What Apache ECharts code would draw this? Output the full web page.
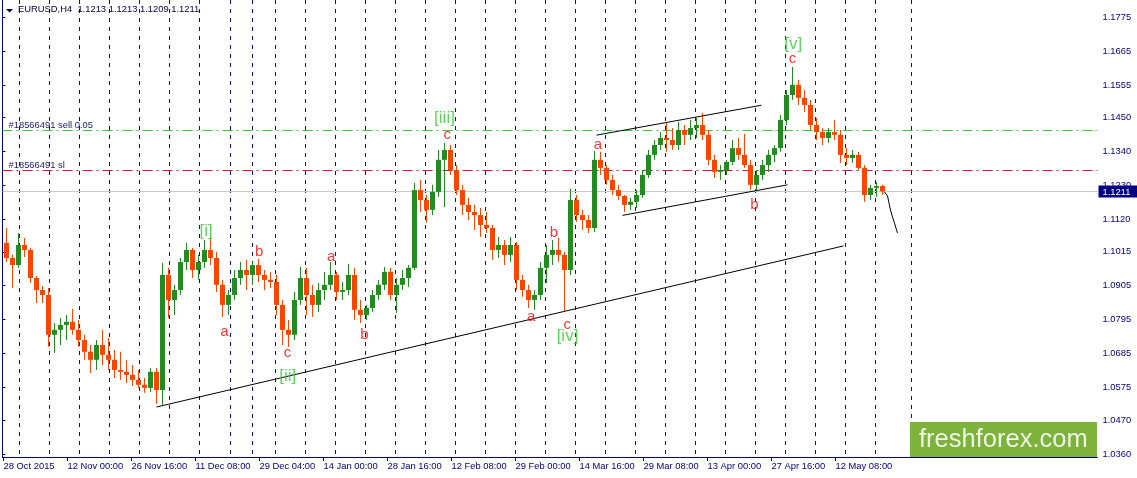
<!DOCTYPE html>
<html><head><meta charset="utf-8">
<script src="https://cdn.jsdelivr.net/npm/echarts@6/dist/echarts.min.js"></script>
<style>html,body{margin:0;padding:0;background:#fff}#c{width:1137px;height:478px}</style>
</head><body><div id="c"></div>
<script>
// ---------------- data ----------------
const chartTitle = 'EURUSD,H4  1.1213 1.1213 1.1209 1.1211';
const xLabels = ['28 Oct 2015','12 Nov 00:00','26 Nov 16:00','11 Dec 08:00','29 Dec 04:00','14 Jan 00:00','28 Jan 16:00','12 Feb 08:00','29 Feb 00:00','14 Mar 16:00','29 Mar 08:00','13 Apr 00:00','27 Apr 16:00','12 May 08:00'];
const yLabels = [1.1775,1.1665,1.1555,1.1450,1.1340,1.1230,1.1120,1.1015,1.0905,1.0795,1.0685,1.0575,1.0470,1.0360];
// H4 bar index of each weekly separator
const weekStarts = [17,47,77,107,137,167,197,228,250,273,303,333,363,393,423,453,483,513,543,573,603,633,663,693,723,753,783,813,843,873,909];
// daily candles (6 H4 bars each)
const opens = [
1.1044,1.0995,1.0972,1.1037,1.1021,1.0930,1.0891,1.0875,1.0746,1.0762,
1.0778,1.0788,1.0762,1.0729,1.0691,1.0665,1.0713,1.0681,1.0665,1.0632,
1.0626,1.0616,1.0600,1.0584,1.0574,1.0626,1.0567,1.0940,1.0859,1.0891,
1.0982,1.1021,1.0956,1.0982,1.1021,1.0995,1.0908,1.0843,1.0875,1.0930,
1.0956,1.0940,1.0972,1.0940,1.0924,1.0917,1.0843,1.0762,1.0746,1.0859,
1.0930,1.0875,1.0843,1.0891,1.0908,1.0940,1.0885,1.0891,1.0940,1.0827,
1.0810,1.0833,1.0875,1.0908,1.0950,1.0875,1.0908,1.0930,1.0963,1.1215,
1.1183,1.1151,1.1209,1.1313,1.1345,1.1280,1.1215,1.1167,1.1144,1.1134,
1.1102,1.1092,1.1021,1.1037,1.1005,1.1037,1.0924,1.0891,1.0859,1.0875,
1.0963,1.1005,1.1021,1.1005,1.0956,1.1183,1.1134,1.1118,1.1092,1.1313,
1.1287,1.1248,1.1215,1.1196,1.1167,1.1177,1.1199,1.1264,1.1329,1.1361,
1.1384,1.1377,1.1361,1.1410,1.1394,1.1416,1.1426,1.1394,1.1313,1.1274,
1.1280,1.1306,1.1351,1.1329,1.1296,1.1232,1.1264,1.1296,1.1329,1.1351,
1.1442,1.1523,1.1556,1.1514,1.1491,1.1426,1.1403,1.1384,1.1403,1.1394,
1.1329,1.1319,1.1329,1.1287,1.1199,1.1222,1.1228];
const closes = [
1.0995,1.0972,1.1037,1.1021,1.0930,1.0891,1.0875,1.0746,1.0762,1.0778,
1.0788,1.0762,1.0729,1.0691,1.0665,1.0713,1.0681,1.0665,1.0632,1.0626,
1.0616,1.0600,1.0584,1.0574,1.0626,1.0567,1.0940,1.0859,1.0891,1.0982,
1.1021,1.0956,1.0982,1.1021,1.0995,1.0908,1.0843,1.0875,1.0930,1.0956,
1.0940,1.0972,1.0940,1.0924,1.0917,1.0843,1.0762,1.0746,1.0859,1.0930,
1.0875,1.0843,1.0891,1.0908,1.0940,1.0885,1.0891,1.0940,1.0827,1.0810,
1.0833,1.0875,1.0908,1.0950,1.0875,1.0908,1.0930,1.0963,1.1215,1.1183,
1.1151,1.1209,1.1313,1.1345,1.1280,1.1215,1.1167,1.1144,1.1134,1.1102,
1.1092,1.1021,1.1037,1.1005,1.1037,1.0924,1.0891,1.0859,1.0875,1.0963,
1.1005,1.1021,1.1005,1.0956,1.1183,1.1134,1.1118,1.1092,1.1313,1.1287,
1.1248,1.1215,1.1196,1.1167,1.1177,1.1199,1.1264,1.1329,1.1361,1.1384,
1.1377,1.1361,1.1410,1.1394,1.1416,1.1426,1.1394,1.1313,1.1274,1.1280,
1.1306,1.1351,1.1329,1.1296,1.1232,1.1264,1.1296,1.1329,1.1351,1.1442,
1.1523,1.1556,1.1514,1.1491,1.1426,1.1403,1.1384,1.1403,1.1394,1.1329,
1.1319,1.1329,1.1287,1.1199,1.1222,1.1228,1.1211];
const highs = [
1.1092,1.1005,1.1076,1.1060,1.1028,1.0937,1.0904,1.0898,1.0784,1.0801,
1.0810,1.0830,1.0794,1.0746,1.0713,1.0729,1.0762,1.0736,1.0697,1.0691,
1.0665,1.0648,1.0632,1.0606,1.0639,1.0639,1.0979,1.0963,1.0908,1.0995,
1.1044,1.1028,1.1005,1.1053,1.1063,1.1015,1.0924,1.0891,1.0956,1.0982,
1.0989,1.0982,1.0992,1.0956,1.0950,1.0940,1.0859,1.0794,1.0885,1.0966,
1.0963,1.0908,1.0914,1.0950,1.0982,1.0950,1.0917,1.0976,1.0963,1.0859,
1.0843,1.0891,1.0924,1.0966,1.0963,1.0930,1.0956,1.0972,1.1238,1.1248,
1.1199,1.1232,1.1345,1.1368,1.1361,1.1296,1.1232,1.1190,1.1167,1.1157,
1.1144,1.1102,1.1063,1.1053,1.1063,1.1047,1.0940,1.0908,1.0891,1.0982,
1.1037,1.1053,1.1060,1.1015,1.1219,1.1199,1.1151,1.1134,1.1342,1.1339,
1.1296,1.1264,1.1232,1.1199,1.1190,1.1215,1.1280,1.1345,1.1377,1.1403,
1.1432,1.1416,1.1436,1.1426,1.1442,1.1449,1.1465,1.1410,1.1329,1.1296,
1.1313,1.1377,1.1384,1.1397,1.1313,1.1280,1.1313,1.1345,1.1361,1.1458,
1.1539,1.1614,1.1572,1.1539,1.1507,1.1449,1.1416,1.1416,1.1442,1.1410,
1.1351,1.1345,1.1339,1.1296,1.1232,1.1241,1.1232];
const lows = [
1.0982,1.0898,1.0963,1.0998,1.0914,1.0849,1.0849,1.0707,1.0687,1.0713,
1.0729,1.0746,1.0707,1.0665,1.0622,1.0632,1.0648,1.0632,1.0606,1.0600,
1.0590,1.0580,1.0574,1.0558,1.0561,1.0522,1.0519,1.0801,1.0810,1.0875,
1.0956,1.0930,1.0924,1.0963,1.0972,1.0885,1.0804,1.0810,1.0859,1.0908,
1.0891,1.0908,1.0917,1.0891,1.0898,1.0810,1.0713,1.0707,1.0729,1.0843,
1.0810,1.0804,1.0820,1.0859,1.0891,1.0859,1.0859,1.0875,1.0794,1.0784,
1.0794,1.0820,1.0859,1.0891,1.0859,1.0817,1.0891,1.0901,1.0956,1.1144,
1.1109,1.1134,1.1193,1.1160,1.1264,1.1199,1.1134,1.1118,1.1086,1.1063,
1.1076,1.0989,1.0995,1.0972,1.0982,1.0891,1.0869,1.0833,1.0827,1.0859,
1.0914,1.0972,1.0982,1.0820,1.0940,1.1112,1.1086,1.1076,1.1079,1.1264,
1.1232,1.1199,1.1183,1.1144,1.1151,1.1157,1.1190,1.1254,1.1313,1.1345,
1.1339,1.1345,1.1345,1.1361,1.1377,1.1384,1.1377,1.1296,1.1254,1.1248,
1.1264,1.1296,1.1313,1.1287,1.1215,1.1215,1.1248,1.1274,1.1306,1.1339,
1.1426,1.1507,1.1491,1.1468,1.1410,1.1377,1.1361,1.1368,1.1377,1.1303,
1.1296,1.1303,1.1280,1.1177,1.1183,1.1193,1.1199];
const sellLevel = 1.1408, stopLevel = 1.1278, lastPrice = 1.1211;
const sellText = '#18566491 sell 0.05', stopText = '#18566491 sl';
// drawn lines: [H4 bar index, price]
const trendLine = [[154,1.0512],[841,1.1034]];
const channelUpper = [[594,1.1393],[759,1.1490]];
const channelLower = [[620,1.1133],[785,1.1232]];
const projection = [[882,1.1209],[885,1.1196],[886.5,1.1173],[888,1.1150],[890,1.1128],[892,1.1108],[894,1.1086],[895,1.1076]];
// wave labels: [H4 bar index, price, text]
const waveLetters = [[222,1.0755,'a'],[256.7,1.1014,'b'],[285,1.0687,'c'],[328.7,1.0999,'a'],[362,1.0746,'b'],[444.7,1.1394,'c'],[528.7,1.0805,'a'],[551.3,1.1075,'b'],[564.7,1.0778,'c'],[595.3,1.1361,'a'],[752,1.1167,'b'],[790,1.1639,'c']];
const waveDegrees = [[203.7,1.1080,'[i]'],[285.3,1.0611,'[ii]'],[442,1.1449,'[iii]'],[565,1.0742,'[iv]'],[790.7,1.1687,'[v]']];

// ---------------- chart ----------------
const NAVY = '#000080';
const GRIDBLUE = '#0A0A9C';
const FONT = '"Liberation Sans", Arial, sans-serif';
const FS = 9.4;
const barsPerCandle = 6, firstCandleBar = 4, barsPerLabel = 64, firstLabelBar = 1;
const candleData = closes.map((c, i) => [firstCandleBar + barsPerCandle * i, opens[i], c, lows[i], highs[i]]);
const labelBars = xLabels.map((_, k) => firstLabelBar + barsPerLabel * k);
const levelDefs = [
  { price: lastPrice, color: '#C8C8C8', dash: null, text: null, box: lastPrice.toFixed(4) },
  { price: sellLevel, color: '#32CD32', dash: [10, 4, 2, 4], text: sellText, box: null },
  { price: stopLevel, color: '#E0103C', dash: [10, 4, 2, 4], text: stopText, box: null }
];

function renderCandle(params, api) {
  const x = api.value(0), o = api.value(1), c = api.value(2), l = api.value(3), h = api.value(4);
  const pO = api.coord([x, o]), pC = api.coord([x, c]), pL = api.coord([x, l]), pH = api.coord([x, h]);
  const color = c >= o ? '#228B22' : '#FF4500';
  const px = Math.floor(pO[0]) + 0.5;
  const top = Math.min(pO[1], pC[1]), bot = Math.max(pO[1], pC[1]);
  return {
    type: 'group',
    children: [
      { type: 'line', shape: { x1: px, y1: pH[1], x2: px, y2: pL[1] }, style: { stroke: color, lineWidth: 1 } },
      { type: 'rect', shape: { x: px - 2.5, y: top, width: 5, height: Math.max(1, bot - top) }, style: { fill: color } }
    ]
  };
}
function renderWeek(params, api) {
  const cs = params.coordSys;
  const x = Math.floor(api.coord([api.value(0), lastPrice])[0]) + 0.5;
  return { type: 'line', shape: { x1: x, y1: cs.y, x2: x, y2: cs.y + cs.height },
    style: { stroke: GRIDBLUE, lineWidth: 1, lineDash: [4, 5] } };
}
function renderLevel(params, api) {
  const cs = params.coordSys;
  const lv = levelDefs[params.dataIndex];
  const y = Math.floor(api.coord([0, api.value(0)])[1]) + 0.5;
  const kids = [{ type: 'line', shape: { x1: cs.x, y1: y, x2: cs.x + cs.width, y2: y },
    style: { stroke: lv.color, lineWidth: 1, lineDash: lv.dash || null } }];
  if (lv.text) kids.push({ type: 'text', x: cs.x + 6, y: y - 5.5,
    style: { text: lv.text, fill: '#202070', font: FS + 'px ' + FONT, verticalAlign: 'middle' } });
  if (lv.box) {
    kids.push({ type: 'rect', shape: { x: cs.x + cs.width + 1, y: y - 6, width: 40, height: 12 }, style: { fill: NAVY } });
    kids.push({ type: 'text', x: cs.x + cs.width + 5, y: y + 0.5,
      style: { text: lv.box, fill: '#fff', font: FS + 'px ' + FONT, verticalAlign: 'middle' } });
  }
  return { type: 'group', children: kids };
}

const chart = echarts.init(document.getElementById('c'));
const lineSeries = (d) => ({ type: 'line', data: d, xAxisIndex: 0, yAxisIndex: 0, symbol: 'none', silent: true, animation: false, z: 5,
  lineStyle: { color: '#000', width: 1 } });

chart.setOption({
  animation: false,
  backgroundColor: '#fff',
  textStyle: { fontFamily: FONT },
  grid: { left: 2.5, right: 39.5, top: 0, bottom: 21, containLabel: false, outerBoundsMode: 'none' },
  xAxis: [{
    type: 'value', min: 0, max: 1095, position: 'bottom',
    axisLine: { show: true, lineStyle: { color: NAVY, width: 1 } },
    axisTick: { show: true, length: 4, lineStyle: { color: NAVY }, customValues: labelBars },
    axisLabel: { show: true, customValues: labelBars, align: 'left', margin: 5, color: NAVY, fontSize: FS, fontFamily: FONT,
      formatter: v => { const k = labelBars.indexOf(v); return k >= 0 ? xLabels[k] : ''; } },
    splitLine: { show: false }
  }],
  yAxis: [{
    type: 'value', min: 1.0350, max: 1.1831, position: 'right',
    axisLine: { show: true, lineStyle: { color: NAVY, width: 1 } },
    axisTick: { show: true, length: 3, lineStyle: { color: NAVY }, customValues: yLabels },
    axisLabel: { show: true, customValues: yLabels, margin: 5, color: NAVY, fontSize: FS, fontFamily: FONT, formatter: v => v.toFixed(4) },
    splitLine: { show: false }
  }, {
    type: 'value', min: 1.0350, max: 1.1831, position: 'left',
    axisLine: { show: true, lineStyle: { color: NAVY, width: 1 } },
    axisTick: { show: false }, axisLabel: { show: false }, splitLine: { show: false }
  }],
  series: [
    { type: 'custom', renderItem: renderWeek, data: weekStarts.map(v => [v]), encode: { x: 0 }, z: 1, silent: true },
    { type: 'custom', renderItem: renderLevel, data: levelDefs.map(l => [l.price]), encode: { y: 0 }, z: 2, silent: true },
    { type: 'custom', renderItem: renderCandle, data: candleData, encode: { x: 0, y: [1, 2, 3, 4] }, z: 3, silent: true },
    lineSeries(trendLine), lineSeries(channelUpper), lineSeries(channelLower), lineSeries(projection),
    { type: 'scatter', data: waveLetters, symbolSize: 1, itemStyle: { color: 'rgba(0,0,0,0)' }, silent: true, z: 6,
      label: { show: true, position: 'inside', formatter: p => p.data[2], color: '#FF0000', fontSize: 15, fontFamily: FONT } },
    { type: 'scatter', data: waveDegrees, symbolSize: 1, itemStyle: { color: 'rgba(0,0,0,0)' }, silent: true, z: 6,
      label: { show: true, position: 'inside', formatter: p => p.data[2], color: '#33CC33', fontSize: 17, fontFamily: FONT } }
  ],
  graphic: [
    { type: 'polygon', shape: { points: [[6, 9], [13, 9], [9.5, 12.5]] }, style: { fill: '#000040' }, z: 10 },
    { type: 'text', left: 18, top: 5, style: { text: chartTitle, font: FS + 'px ' + FONT, fill: '#000040' }, z: 10 },
    { type: 'rect', shape: { x: 910, y: 422, width: 187, height: 35 }, style: { fill: '#7DB23C' }, z: 10 },
    { type: 'text', x: 919, y: 439.5, style: { text: 'freshforex.com', font: '25.5px ' + FONT, fill: '#EEF5E2', verticalAlign: 'middle' }, z: 11 }
  ]
});
</script>
</body></html>
